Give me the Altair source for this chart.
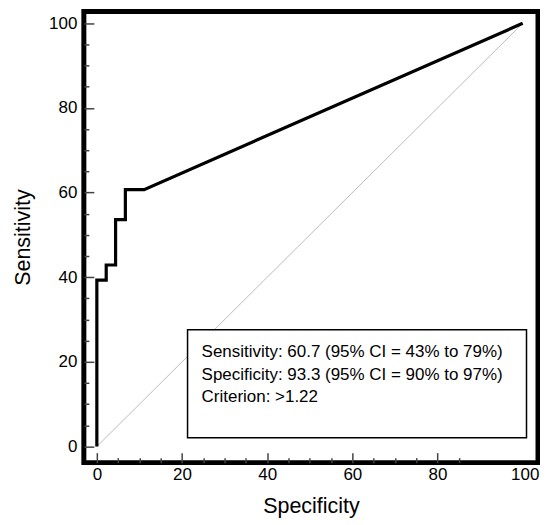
import altair as alt
import pandas as pd

# ROC curve
roc_x = [0, 0, 2.2, 2.2, 4.4, 4.4, 6.7, 6.7, 11.1, 100]
roc_y = [0, 39.3, 39.3, 42.9, 42.9, 53.6, 53.6, 60.7, 60.7, 100]
# reference diagonal
diag_x = [0, 100]
diag_y = [0, 100]
# annotation box
box_x = [21.3]
box_x2 = [100.9]
box_y = [2.1]
box_y2 = [27.6]
text_lines = [
    "Sensitivity: 60.7 (95% CI = 43% to 79%)",
    "Specificity: 93.3 (95% CI = 90% to 97%)",
    "Criterion: >1.22",
]
text_x = [24.6, 24.6, 24.6]
text_y = [21.2, 15.8, 10.6]
# ticks
x_ticks = [0, 5, 10, 15, 20, 25, 30, 35, 40, 45, 50, 55, 60, 65, 70, 75, 80, 85, 100]
y_ticks = [0, 5, 10, 15, 20, 25, 30, 35, 40, 45, 50, 55, 60, 65, 70, 75, 80, 85, 90, 95, 100]

FONT = "Liberation Sans"

roc = pd.DataFrame({"x": roc_x, "y": roc_y, "i": list(range(len(roc_x)))})
diag = pd.DataFrame({"x": diag_x, "y": diag_y})
box = pd.DataFrame({"x": box_x, "x2": box_x2, "y": box_y, "y2": box_y2})
txt = pd.DataFrame({"x": text_x, "y": text_y, "t": text_lines})

xscale = alt.Scale(domain=[-3.05, 103.6], nice=False, zero=False)
yscale = alt.Scale(domain=[-3.8, 102.8], nice=False, zero=False)

lab = "datum.value % 20 == 0 ? datum.label : ''"

xaxis = alt.Axis(title="Specificity", values=x_ticks, labelExpr=lab,
                 tickSize={"expr": "datum.value % 20 == 0 ? -10 : -5"},
                 tickOpacity={"expr": "datum.value > 85 ? 0 : 1"},
                 labelOffset={"expr": "datum.value == 100 ? 2 : 0"},
                 labelPadding=14, titlePadding=13, grid=False, domain=False,
                 tickColor="#444", tickWidth=1.5, labelFontSize=17, titleFontSize=21.5,
                 labelFont=FONT, titleFont=FONT, labelColor="black", titleColor="black",
                 titleFontWeight="normal")
yaxis = alt.Axis(title="Sensitivity", values=y_ticks, labelExpr=lab,
                 tickSize={"expr": "datum.value % 20 == 0 ? -10 : -5"},
                 labelPadding=17, titlePadding=14, grid=False, domain=False,
                 tickColor="#444", tickWidth=1.5, labelFontSize=17, titleFontSize=21.5,
                 labelFont=FONT, titleFont=FONT, labelColor="black", titleColor="black",
                 titleFontWeight="normal")

X = lambda f="x": alt.X(f"{f}:Q", scale=xscale, axis=xaxis)
Y = lambda f="y": alt.Y(f"{f}:Q", scale=yscale, axis=yaxis)

diag_layer = alt.Chart(diag).mark_line(color="#bbbbbb", strokeWidth=1).encode(x=X(), y=Y())
roc_layer = alt.Chart(roc).mark_line(color="black", strokeWidth=3.2, strokeJoin="miter").encode(
    x=X(), y=Y(), order="i:Q")
box_layer = alt.Chart(box).mark_rect(fill="white", stroke="black", strokeWidth=1.5).encode(
    x=X(), x2="x2:Q", y=Y(), y2="y2:Q")
text_layer = alt.Chart(txt).mark_text(align="left", baseline="alphabetic", fontSize=17,
                                      font=FONT, color="black").encode(x=X(), y=Y(), text="t:N")

chart = alt.layer(diag_layer, roc_layer, box_layer, text_layer).properties(
    width=455, height=452,
    background="white",
    autosize=alt.AutoSizeParams(type="none"),
    padding={"left": 76, "top": 3, "right": 2, "bottom": 57},
).configure_view(stroke="black", strokeWidth=5)

chart.save("out.html", embed_options={"renderer": "svg", "actions": False})
